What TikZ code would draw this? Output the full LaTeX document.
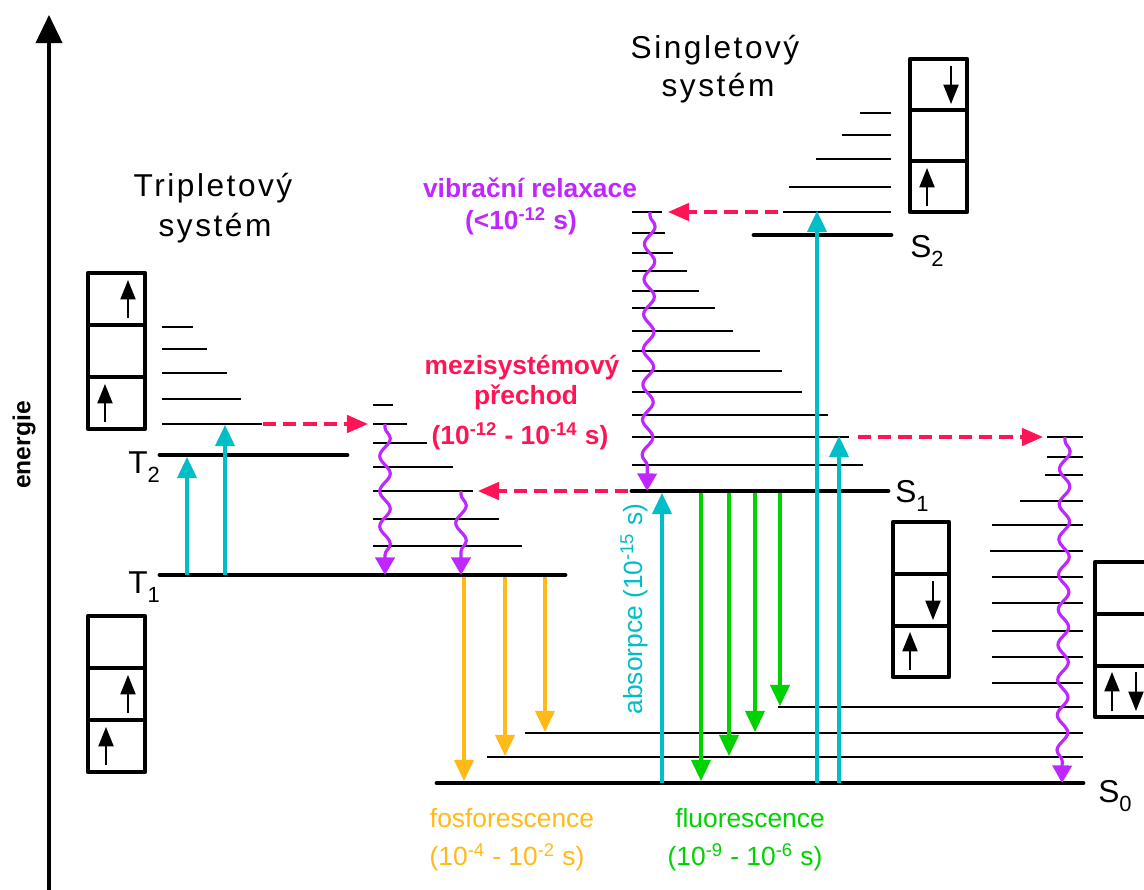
\documentclass[tikz,border=0pt]{standalone}
\usepackage{fontspec}
\setmainfont{Liberation Sans}
\newfontfamily\spaced{Liberation Sans}[LetterSpace=8]
\usetikzlibrary{arrows.meta,decorations.pathmorphing}
\definecolor{cy}{RGB}{0,190,200}
\definecolor{pu}{RGB}{190,40,255}
\definecolor{rd}{RGB}{255,20,85}
\definecolor{og}{RGB}{255,185,25}
\definecolor{gr}{RGB}{0,210,0}
\newcommand\lvlab[2]{#1\raisebox{-5.5pt}{\fontsize{12.5}{13}\selectfont #2}}
\begin{document}
\begin{tikzpicture}[x=0.02cm,y=-0.02cm,
  vib/.style={line width=1.1pt},
  lev/.style={line width=2.8pt,line cap=round},
  cell/.style={line width=2.4pt,line join=round},
  spin/.style={line width=1.2pt,-{Triangle[width=8.5pt,length=11pt]}},
  tr/.style={line width=1.8pt,-{Triangle[width=11pt,length=12pt]}},
  absarr/.style={tr,cy},
  fluarr/.style={tr,gr},
  phosarr/.style={tr,og},
  iscarr/.style={rd,line width=1.8pt,dash pattern=on 7.5pt off 4pt,-{Triangle[width=10pt,length=12pt]}},
  vrarr/.style={pu,line width=1.8pt,decorate,decoration={snake,amplitude=3pt,segment length=20pt,pre length=2pt,post length=10pt},-{Triangle[width=11pt,length=10pt]}},
  title/.style={font=\spaced\fontsize{18}{20}\selectfont},
  lab/.style={font=\fontsize{18}{20}\selectfont,anchor=base west,inner sep=0pt},
  boldlab/.style={font=\bfseries\fontsize{15}{17}\selectfont},
  reglab/.style={font=\fontsize{15}{17}\selectfont}
]
\useasboundingbox (0,0) rectangle (1144,890);

% energy axis
\coordinate (ax0) at (49,890);
\coordinate (ax1) at (49,15);
\draw[line width=1.8pt,-{Triangle[width=15pt,length=16pt]}] (ax0) -- (ax1);
\node[rotate=90,font=\bfseries\fontsize{14}{16}\selectfont] (en) at (24,445) {energie};

% titles
\node[title] (tt) at (213,188) {Tripletový};
\node[title] (ts) at (215,228) {systém};
\node[title] (st) at (715,50) {Singletový};
\node[title] (ss) at (718,88) {systém};

% triplet levels
\draw[lev] (160,455) -- (347,455);
\draw[lev] (160,575) -- (565,575);
\foreach \y/\e in {327/193,349/207,373/227,399/241,424/262}
  \draw[vib] (162,\y) -- (\e,\y);
\foreach \y/\e in {405/393,424/407,443/427,467/453,491/473,519/499,546/522}
  \draw[vib] (373,\y) -- (\e,\y);

% singlet levels
\draw[lev] (754,235) -- (891,235);
\foreach \y/\s in {113/860,135/842,159/816,187/789,212/783}
  \draw[vib] (\s,\y) -- (891,\y);
\draw[lev] (632,491) -- (888,491);
\foreach \y/\e in {212/662,233/665,253/673,271/687,291/699,308/715,331/733,351/760,371/782,392/802,415/828,437/849,465/863}
  \draw[vib] (632,\y) -- (\e,\y);
\draw[lev] (437,783) -- (1083,783);
\foreach \y/\s in {437/1047,457/1047,475/1045,501/1020,525/992,551/990,577/992,603/992,631/992,657/992,683/992,707/778,733/525,757/487}
  \draw[vib] (\s,\y) -- (1083,\y);

% level labels
\node[lab] (lT2) at (128,473) {\lvlab{T}{2}};
\node[lab] (lT1) at (128,593) {\lvlab{T}{1}};
\node[lab] (lS2) at (910,257) {\lvlab{S}{2}};
\node[lab] (lS1) at (895,502) {\lvlab{S}{1}};
\node[lab] (lS0) at (1098,802) {\lvlab{S}{0}};

% orbital boxes
\draw[cell] (88,273) rectangle (145,429);
\draw[cell] (88,325) -- (145,325) (88,377) -- (145,377);
\draw[spin] (128,318) -- (128,280);
\draw[spin] (105,422) -- (105,384);

\draw[cell] (88,616) rectangle (145,772);
\draw[cell] (88,668) -- (145,668) (88,720) -- (145,720);
\draw[spin] (128,713) -- (128,675);
\draw[spin] (106,765) -- (106,727);

\draw[cell] (910,59) rectangle (967,212);
\draw[cell] (910,110) -- (967,110) (910,161) -- (967,161);
\draw[spin] (951,66) -- (951,104);
\draw[spin] (927,206) -- (927,168);

\draw[cell] (893,522) rectangle (949,677);
\draw[cell] (893,574) -- (949,574) (893,626) -- (949,626);
\draw[spin] (933,581) -- (933,620);
\draw[spin] (910,670) -- (910,632);

\draw[cell] (1095,562) rectangle (1160,717);
\draw[cell] (1095,614) -- (1160,614) (1095,666) -- (1160,666);
\draw[spin] (1112,711) -- (1112,672);
\draw[spin] (1136,672) -- (1136,711);

% triplet transitions
\coordinate (a1s) at (187,575); \coordinate (a1e) at (187,457);
\coordinate (a2s) at (225,575); \coordinate (a2e) at (225,425);
\draw[absarr] (a1s) -- (a1e);
\draw[absarr] (a2s) -- (a2e);
\coordinate (i1s) at (263,424); \coordinate (i1e) at (368,424);
\draw[iscarr] (i1s) -- (i1e);
\coordinate (v1s) at (385,424); \coordinate (v1e) at (385,575);
\draw[vrarr] (v1s) -- (v1e);
\coordinate (v2s) at (461,491); \coordinate (v2e) at (461,575);
\draw[vrarr] (v2s) -- (v2e);
\coordinate (i2s) at (628,491); \coordinate (i2e) at (478,491);
\draw[iscarr] (i2s) -- (i2e);
\coordinate (p1s) at (464,577); \coordinate (p1e) at (464,781);
\coordinate (p2s) at (505,577); \coordinate (p2e) at (505,756);
\coordinate (p3s) at (545,577); \coordinate (p3e) at (545,732);
\draw[phosarr] (p1s) -- (p1e);
\draw[phosarr] (p2s) -- (p2e);
\draw[phosarr] (p3s) -- (p3e);

% singlet transitions
\coordinate (b1s) at (662,783); \coordinate (b1e) at (662,493);
\coordinate (b2s) at (817,783); \coordinate (b2e) at (817,211);
\coordinate (b3s) at (839,783); \coordinate (b3e) at (839,436);
\draw[absarr] (b1s) -- (b1e);
\draw[absarr] (b2s) -- (b2e);
\draw[absarr] (b3s) -- (b3e);
\coordinate (i3s) at (778,212); \coordinate (i3e) at (668,212);
\draw[iscarr] (i3s) -- (i3e);
\coordinate (v3s) at (650,212); \coordinate (v3e) at (647,491);
\draw[vrarr] (v3s) -- (v3e);
\coordinate (i4s) at (858,437); \coordinate (i4e) at (1043,437);
\draw[iscarr] (i4s) -- (i4e);
\coordinate (v4s) at (1065,437); \coordinate (v4e) at (1062,783);
\draw[vrarr] (v4s) -- (v4e);
\coordinate (f1s) at (701,493); \coordinate (f1e) at (701,781);
\coordinate (f2s) at (729,493); \coordinate (f2e) at (729,756);
\coordinate (f3s) at (755,493); \coordinate (f3e) at (755,732);
\coordinate (f4s) at (780,493); \coordinate (f4e) at (780,706);
\draw[fluarr] (f1s) -- (f1e);
\draw[fluarr] (f2s) -- (f2e);
\draw[fluarr] (f3s) -- (f3e);
\draw[fluarr] (f4s) -- (f4e);

% process labels
\node[boldlab,text=pu] (vr1) at (530,188) {vibrační relaxace};
\node[boldlab,text=pu] (vr2) at (521,221) {(<10\textsuperscript{-12} s)};
\node[boldlab,text=rd] (is1) at (522,368) {mezisystémový};
\node[boldlab,text=rd] (is2) at (526,397) {přechod};
\node[boldlab,text=rd] (is3) at (520,436) {(10\textsuperscript{-12} - 10\textsuperscript{-14} s)};
\node[reglab,text=cy,rotate=90] (ab) at (634,609) {absorpce (10\textsuperscript{-15} s)};
\node[reglab,text=og] (ph1) at (512,818) {fosforescence};
\node[reglab,text=og] (ph2) at (507,857) {(10\textsuperscript{-4} - 10\textsuperscript{-2} s)};
\node[reglab,text=gr] (fl1) at (750,818) {fluorescence};
\node[reglab,text=gr] (fl2) at (745,857) {(10\textsuperscript{-9} - 10\textsuperscript{-6} s)};
\end{tikzpicture}
\end{document}
